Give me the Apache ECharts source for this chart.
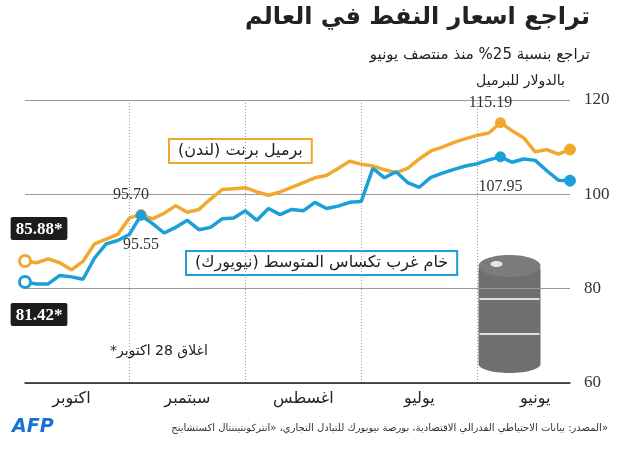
<!DOCTYPE html>
<html><head><meta charset="utf-8">
<script src="https://cdn.jsdelivr.net/npm/echarts@6/dist/echarts.min.js"></script>
<style>html,body{margin:0;padding:0;background:#fff}#c{width:620px;height:450px}</style>
</head><body><div id="c"></div>
<script>
var dates = ['06-07','06-10','06-13','06-16','06-19','06-22','06-25','06-28',
 '07-01','07-04','07-07','07-10','07-13','07-16','07-19','07-22','07-25','07-28',
 '08-01','08-04','08-07','08-10','08-13','08-16','08-19','08-22','08-25','08-28',
 '09-01','09-04','09-07','09-10','09-13','09-16','09-19','09-22','09-25','09-28',
 '10-01','10-04','10-07','10-10','10-13','10-16','10-19','10-22','10-25','10-28'];
var brent = [109.5,108.5,109.5,109,112,113.5,115.19,113,
 112.5,111.8,111,110,109.2,107.5,105.5,104.6,105.2,106,
 106.4,107,105.5,104,103.5,102.5,101.5,100.5,99.8,100.5,
 101.4,101.2,101,99,96.8,96.2,97.6,96,94.8,95.70,
 95,91.5,90.5,89.5,85.8,84,85.5,86.3,85.5,85.88];
var wti = [102.9,103,105,107.2,107.5,106.8,107.95,107.3,
 106.5,106,105.3,104.5,103.6,101.5,102.5,104.8,103.5,105.5,
 98.5,98.3,97.5,97,98.3,96.5,96.8,95.7,97,94.5,
 96.5,95,94.8,93,92.5,94.5,93,91.8,93.8,95.55,
 91.5,90.2,89.5,86.5,82,82.5,82.8,81,81,81.42];
var monthNames = {'06':'يونيو','07':'يوليو','08':'اغسطس','09':'سبتمبر','10':'اكتوبر'};
var yTicks = [60,80,100,120];
var labeledB = {'06-25':'115.19','09-28':'95.70'};
var labeledW = {'06-25':'107.95','09-28':'95.55'};
var AR = 'DejaVu Sans', NUM = 'Liberation Serif';
var ORANGE = '#f0a92e', BLUE = '#1a9fd6';

function build(vals, color, labeled, isBrent){
  return vals.map(function(v,i){
    var d = dates[i];
    var item = {value:v};
    if (i===0){ item.symbolSize=11; item.itemStyle={color:color,borderColor:color}; }
    else if (i===vals.length-1){
      item.symbolSize=11; item.itemStyle={color:'#fff',borderColor:color,borderWidth:3};
      item.label={show:true,formatter:v.toFixed(2)+'*',position:isBrent?'top':'bottom',distance:14,
        color:'#fff',backgroundColor:'#1c1c1c',padding:[4,5,2,5],borderRadius:2,
        fontFamily:NUM,fontWeight:'bold',fontSize:17,offset:[14,0]};
    } else if (labeled[d]){
      item.symbolSize=10; item.itemStyle={color:color,borderColor:color};
      item.label={show:true,formatter:labeled[d],position:isBrent?'top':'bottom',distance:isBrent?6:16,
        color:'#333',fontFamily:NUM,fontSize:16,offset:isBrent?[-10,0]:[0,0]};
    }
    return item;
  });
}

var chart = echarts.init(document.getElementById('c'));
chart.setOption({
  animation:false,
  grid:{left:25,right:50,top:100,bottom:67},
  xAxis:{type:'category',data:dates,inverse:true,boundaryGap:false,
    axisLine:{lineStyle:{color:'#222',width:1.5}},axisTick:{show:false},
    axisLabel:{interval:function(i,v){return v.slice(3)==='16';},
      formatter:function(v){return monthNames[v.slice(0,2)];},
      fontFamily:AR,fontSize:16,color:'#222',margin:8},
    splitLine:{show:true,interval:function(i,v){return v.slice(3)==='01';},
      lineStyle:{color:'#999',type:[1,2],width:1}}},
  yAxis:{type:'value',position:'right',min:60,max:120,interval:20,
    axisLine:{show:false},axisTick:{show:false},
    axisLabel:{fontFamily:NUM,fontSize:17,color:'#333',margin:14,
      formatter:function(v){return yTicks.indexOf(v)>=0?String(v):'';}},
    splitLine:{lineStyle:{color:'#999',width:1}}},
  series:[
    {type:'line',data:build(brent,ORANGE,labeledB,true),showSymbol:true,showAllSymbol:true,symbol:'circle',symbolSize:0,
      lineStyle:{color:ORANGE,width:3.5},itemStyle:{color:ORANGE},z:3},
    {type:'line',data:build(wti,BLUE,labeledW,false),showSymbol:true,showAllSymbol:true,symbol:'circle',symbolSize:0,
      lineStyle:{color:BLUE,width:3.5},itemStyle:{color:BLUE},z:4}
  ],
  graphic:[
    {type:'text',right:30,top:6,style:{text:'تراجع اسعار النفط في العالم',font:'bold 24px "DejaVu Sans"',fill:'#222'}},
    {type:'text',right:30,top:48,style:{text:'تراجع بنسبة 25% منذ منتصف يونيو',font:'15px "DejaVu Sans"',fill:'#222'}},
    {type:'text',right:55,top:74,style:{text:'بالدولار للبرميل',font:'14px "DejaVu Sans"',fill:'#222'}},
    {type:'text',left:168,top:138,style:{text:'برميل برنت (لندن)',font:'16px "DejaVu Sans"',fill:'#222',
      backgroundColor:'#fff',borderColor:ORANGE,borderWidth:2,padding:[3,8,3,8]}},
    {type:'text',left:185,top:250,style:{text:'خام غرب تكساس المتوسط (نيويورك)',font:'16px "DejaVu Sans"',fill:'#222',
      backgroundColor:'#fff',borderColor:BLUE,borderWidth:2,padding:[3,8,3,8]}},
    {type:'text',left:108,top:343,style:{text:'*اغلاق 28 اكتوبر',font:'14px "DejaVu Sans"',fill:'#222',backgroundColor:'#fff',padding:[1,2]}},
    {type:'group',left:477,top:255,children:[
      {type:'rect',shape:{x:0,y:12,width:62,height:100,r:4},style:{fill:'#6e6f71'}},
      {type:'ellipse',shape:{cx:31,cy:110,rx:31,ry:9},style:{fill:'#6e6f71'}},
      {type:'ellipse',shape:{cx:31,cy:12,rx:31,ry:11},style:{fill:'#7a7b7d'}},
      {type:'ellipse',shape:{cx:18,cy:10,rx:6,ry:3},style:{fill:'#e5e5e5'}},
      {type:'line',shape:{x1:1,y1:45,x2:61,y2:45},style:{stroke:'#e0e0e0',lineWidth:2}},
      {type:'line',shape:{x1:1,y1:80,x2:61,y2:80},style:{stroke:'#e0e0e0',lineWidth:2}}
    ]},
    {type:'text',left:12,top:418,style:{text:'AFP',font:'italic bold 19px "DejaVu Sans"',fill:'#1a6fd6'}},
    {type:'text',right:12,top:423,style:{text:'المصدر: بيانات الاحتياطي الفدرالي الاقتصادية، بورصة نيويورك للتبادل التجاري، «انتركونتيننتال اكستشاينج»',font:'10px "DejaVu Sans"',fill:'#333'}}
  ]
});
</script></body></html>
